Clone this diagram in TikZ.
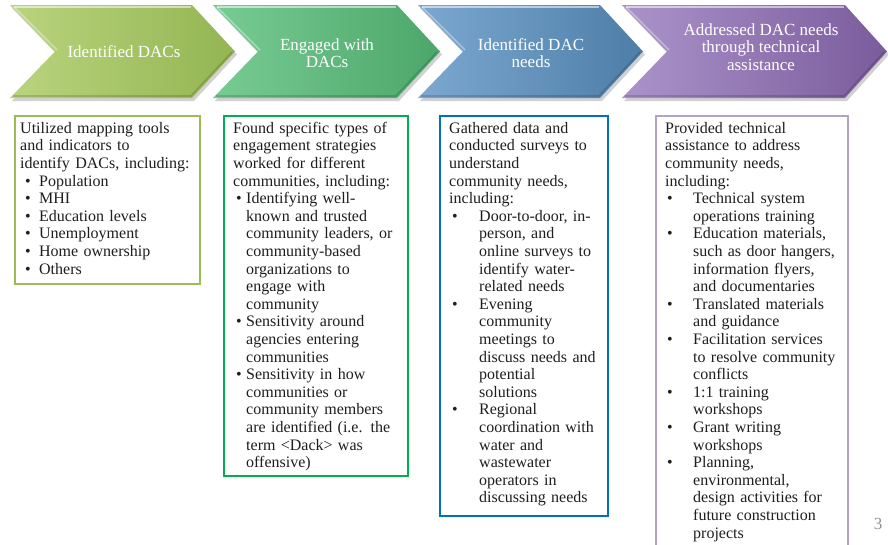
\documentclass[tikz,border=0pt]{standalone}
\usepackage{fontspec}
\setmainfont{Liberation Serif}
\definecolor{boxA}{HTML}{9BBB59}
\definecolor{boxB}{HTML}{00B050}
\definecolor{boxC}{HTML}{0070C0}
\definecolor{boxD}{HTML}{B3A2C7}
\definecolor{chAL}{HTML}{BAD47E}
\definecolor{chAR}{HTML}{93B552}
\definecolor{chBL}{HTML}{78CC93}
\definecolor{chBR}{HTML}{4CA66A}
\definecolor{chCL}{HTML}{7CA8D0}
\definecolor{chCR}{HTML}{4D7EA8}
\definecolor{chDL}{HTML}{AB94CA}
\definecolor{chDR}{HTML}{7A5B9C}
\definecolor{bodytext}{HTML}{1E1E1E}
\newlength\bulind
\newlength\itemind
\newcommand\bl[1]{\makebox[\itemind][l]{\hspace*{\bulind}\textbullet}#1}
\newcommand\cl[1]{\hspace*{\itemind}#1}
\newcommand\chev[5]{%
  \fill[black,opacity=.18] ({#1+2},8) -- ({#2+2},8) -- ({#3+2},54.5) -- ({#2+2},101) -- ({#1+2},101) -- ({#1+47},54.5) -- cycle;
  \shade[left color=#4,right color=#5] (#1,5) -- (#2,5) -- (#3,51.5) -- (#2,98) -- (#1,98) -- ({#1+45},51.5) -- cycle;
  \draw[white,opacity=.55,line width=1.6pt] ({#1+4},7) -- ({#2-1},7);
  \draw[white,opacity=.35,line width=1.6pt] ({#1+4},7) -- ({#1+47},50);
  \draw[black,opacity=.15,line width=1.6pt] ({#1+3},96) -- ({#2-1},96) -- ({#3-3},52);
}
\begin{document}
\begin{tikzpicture}[x=1pt,y=-1pt,
  chevtext/.style={text=white, align=center, font=\fontsize{17}{17.5}\selectfont, inner sep=0pt},
  boxtext/.style={anchor=north west, inner sep=0pt, text width=#1, align=left,
    font=\fontsize{16}{17.6}\selectfont, text=bodytext},
  framebox/.style={draw=#1, line width=1.8pt, anchor=north west, inner sep=0pt, fill=none}]
\useasboundingbox (0,0) rectangle (888,544);
\clip (0,0) rectangle (888,544);
\fill[white] (0,0) rectangle (888,544);

% chevrons
\chev{10}{192}{235}{chAL}{chAR}
\chev{213}{397}{440}{chBL}{chBR}
\chev{418}{600}{643}{chCL}{chCR}
\chev{622}{845}{887}{chDL}{chDR}

\node[chevtext] (c1) at (124,52) {Identified DACs};
\node[chevtext] (c2) at (327,53) {Engaged with\\DACs};
\node[chevtext] (c3) at (531,53) {Identified DAC\\needs};
\node[chevtext] (c4) at (761,47) {Addressed DAC needs\\through technical\\assistance};

% boxes
\node[framebox=boxA, minimum width=185pt, minimum height=168pt] (b1) at (14,115) {};
\node[framebox=boxB, minimum width=184pt, minimum height=360pt] (b2) at (223,115) {};
\node[framebox=boxC, minimum width=168pt, minimum height=400pt] (b3) at (439,115) {};
\node[framebox=boxD, minimum width=192pt, minimum height=440pt] (b4) at (655,115) {};

\node[boxtext=180pt] (t1) at (20,121) {\setlength\bulind{5pt}\setlength\itemind{19pt}\rule{0pt}{12pt}%
Utilized mapping tools\\
and indicators to\\
identify DACs, including:\\
\bl{Population}\\
\bl{MHI}\\
\bl{Education levels}\\
\bl{Unemployment}\\
\bl{Home ownership}\\
\bl{Others}};

\node[boxtext=175pt] (t2) at (233,121) {\setlength\bulind{3pt}\setlength\itemind{13pt}\rule{0pt}{12pt}%
Found specific types of\\
engagement strategies\\
worked for different\\
communities, including:\\
\bl{Identifying well-}\\
\cl{known and trusted}\\
\cl{community leaders, or}\\
\cl{community-based}\\
\cl{organizations to}\\
\cl{engage with}\\
\cl{community}\\
\bl{Sensitivity around}\\
\cl{agencies entering}\\
\cl{communities}\\
\bl{Sensitivity in how}\\
\cl{communities or}\\
\cl{community members}\\
\cl{are identified (i.e. the}\\
\cl{term <Dack> was}\\
\cl{offensive)}};

\node[boxtext=160pt] (t3) at (449,121) {\setlength\bulind{3pt}\setlength\itemind{30pt}\rule{0pt}{12pt}%
Gathered data and\\
conducted surveys to\\
understand\\
community needs,\\
including:\\
\bl{Door-to-door, in-}\\
\cl{person, and}\\
\cl{online surveys to}\\
\cl{identify water-}\\
\cl{related needs}\\
\bl{Evening}\\
\cl{community}\\
\cl{meetings to}\\
\cl{discuss needs and}\\
\cl{potential}\\
\cl{solutions}\\
\bl{Regional}\\
\cl{coordination with}\\
\cl{water and}\\
\cl{wastewater}\\
\cl{operators in}\\
\cl{discussing needs}};

\node[boxtext=185pt] (t4) at (665,121) {\setlength\bulind{2pt}\setlength\itemind{28pt}\rule{0pt}{12pt}%
Provided technical\\
assistance to address\\
community needs,\\
including:\\
\bl{Technical system}\\
\cl{operations training}\\
\bl{Education materials,}\\
\cl{such as door hangers,}\\
\cl{information flyers,}\\
\cl{and documentaries}\\
\bl{Translated materials}\\
\cl{and guidance}\\
\bl{Facilitation services}\\
\cl{to resolve community}\\
\cl{conflicts}\\
\bl{1:1 training}\\
\cl{workshops}\\
\bl{Grant writing}\\
\cl{workshops}\\
\bl{Planning,}\\
\cl{environmental,}\\
\cl{design activities for}\\
\cl{future construction}\\
\cl{projects}};

\node[text=gray!85, font=\fontsize{17}{17}\selectfont, inner sep=0pt] (pg) at (878,524) {3};
\end{tikzpicture}
\end{document}
